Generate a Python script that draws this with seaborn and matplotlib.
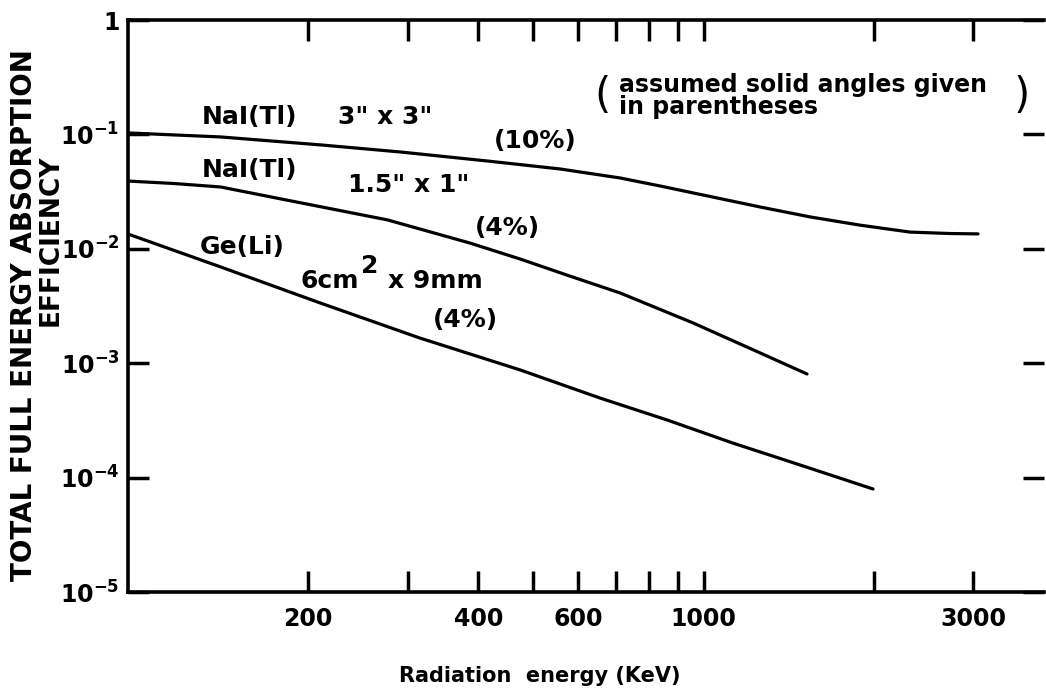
import pandas as pd
import seaborn as sns
import matplotlib.pyplot as plt
from matplotlib.ticker import NullLocator

# Curves (energy in keV, efficiency)
nai33_energy = [96, 140, 210, 291, 414, 557, 712, 838, 1259, 1543, 1891, 2318, 2728, 3058]
nai33_eff = [0.103, 0.095, 0.081, 0.0702, 0.0586, 0.0499, 0.0416, 0.0354, 0.0232, 0.0190,
             0.0161, 0.0140, 0.0136, 0.0135]

nai151_energy = [96, 116, 140, 183, 276, 386, 474, 580, 712, 958, 1259, 1524]
nai151_eff = [0.0391, 0.0372, 0.0347, 0.0267, 0.0179, 0.01124, 0.00814, 0.00578, 0.00411,
              0.00225, 0.00123, 0.000805]

geli_energy = [96, 140, 210, 315, 474, 656, 862, 1128, 1481, 1994]
geli_eff = [0.01346, 0.00694, 0.00336, 0.00166, 0.000873, 0.000496, 0.000319, 0.000200,
            0.000129, 0.0000795]

x_ticks = [200, 300, 400, 500, 600, 700, 800, 900, 1000, 2000, 3000]
x_labels = ['200', '', '400', '', '600', '', '', '', '1000', '', '3000']
y_ticks = [1e-5, 1e-4, 1e-3, 1e-2, 1e-1, 1]
y_labels = [r'$\mathbf{10^{-5}}$', r'$\mathbf{10^{-4}}$', r'$\mathbf{10^{-3}}$',
            r'$\mathbf{10^{-2}}$', r'$\mathbf{10^{-1}}$', '1']

sns.set_style("ticks")
plt.rcParams['font.family'] = ['DejaVu Sans']
plt.rcParams['font.weight'] = 'bold'
plt.rcParams['mathtext.fontset'] = 'dejavusans'
for key in ['text.color', 'axes.edgecolor', 'axes.labelcolor', 'xtick.color', 'ytick.color']:
    plt.rcParams[key] = 'black'

W, H = 1046, 695
fig = plt.figure(figsize=(W / 100, H / 100), dpi=100)
ax = fig.add_axes([128 / W, 1 - 592 / H, (1044 - 128) / W, (592 - 20) / H])

for xs, ys in [(nai33_energy, nai33_eff), (nai151_energy, nai151_eff), (geli_energy, geli_eff)]:
    df = pd.DataFrame({'energy': xs, 'eff': ys})
    sns.lineplot(data=df, x='energy', y='eff', ax=ax, color='black', linewidth=2.3,
                 sort=False, estimator=None)

ax.set_xscale('log')
ax.set_yscale('log')
ax.set_xlim(96, 4000)
ax.set_ylim(1e-5, 1)
ax.set_xticks(x_ticks)
ax.set_xticklabels(x_labels)
ax.set_yticks(y_ticks)
ax.set_yticklabels(y_labels)
ax.xaxis.set_minor_locator(NullLocator())
ax.yaxis.set_minor_locator(NullLocator())
ax.tick_params(direction='in', length=15, width=2.5, top=True, right=True, labelsize=17)
ax.tick_params(axis='x', pad=11)
ax.tick_params(axis='y', pad=6)
ax.set_xlabel('')
ax.set_ylabel('')
for s in ['left', 'top', 'bottom']:
    ax.spines[s].set_linewidth(2.6)
ax.spines['right'].set_visible(False)


def ftext(px, py, s, **kw):
    fig.text(px / W, 1 - py / H, s, **kw)


# axis titles
ftext(540, 676, 'Radiation  energy (KeV)', fontsize=15, ha='center', va='center')
ftext(24, 315, 'TOTAL FULL ENERGY ABSORPTION', fontsize=20, rotation=90, ha='center', va='center')
ftext(51, 240, 'EFFICIENCY', fontsize=19, rotation=90, ha='center', va='center')

# curve annotations
ftext(202, 117, 'NaI(Tl)', fontsize=18, va='center')
ftext(338, 117, '3" x 3"', fontsize=18, va='center')
ftext(535, 141, '(10%)', fontsize=18, ha='center', va='center')
ftext(202, 170, 'NaI(Tl)', fontsize=18, va='center')
ftext(348, 185, '1.5" x 1"', fontsize=18, va='center')
ftext(507, 228, '(4%)', fontsize=18, ha='center', va='center')
ftext(200, 247, 'Ge(Li)', fontsize=18, va='center')
ftext(300, 281, '6cm', fontsize=18, va='center')
ftext(361, 266, '2', fontsize=18, va='center')
ftext(388, 281, 'x 9mm', fontsize=18, va='center')
ftext(465, 320, '(4%)', fontsize=18, ha='center', va='center')

ftext(603, 96, '(', fontsize=30, ha='center', va='center', fontweight='normal')
ftext(1022, 96, ')', fontsize=30, ha='center', va='center', fontweight='normal')
ftext(619, 96, 'assumed solid angles given\nin parentheses', fontsize=17, va='center',
      linespacing=0.88)

fig.savefig('out.png', dpi=100)
